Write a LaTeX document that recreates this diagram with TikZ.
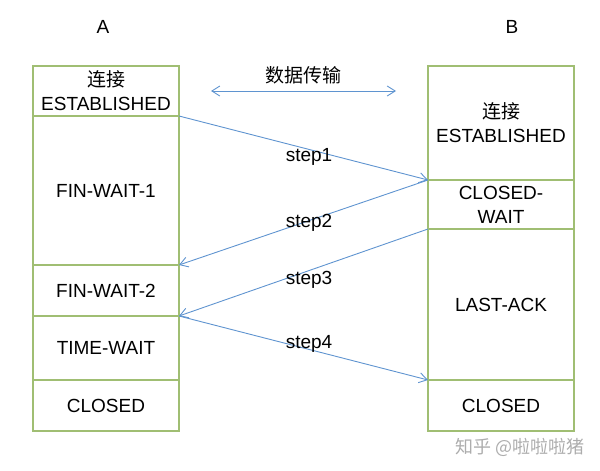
\documentclass[tikz,border=0pt]{standalone}
\usepackage{fontspec}
\setmainfont{Liberation Sans}
\newfontfamily\cjk{Noto Sans CJK SC}
\usepackage{xcolor}
\usetikzlibrary{positioning,arrows.meta}
\definecolor{boxgreen}{RGB}{160,190,115}
\definecolor{linkblue}{RGB}{95,148,208}

\begin{document}
\begin{tikzpicture}[
  x=0.5pt, y=-0.5pt,
  node distance=0pt,
  font=\fontsize{9.5}{12}\selectfont,
  statebox/.style={rectangle, draw=boxgreen, line width=0.7pt, fill=white,
                   minimum width=73pt, inner sep=0pt, outer sep=0pt, align=center},
  every edge/.style={  % the messages between A and B
            draw=linkblue,
            line width=0.45pt,
            -{Straight Barb[length=4pt,width=5pt]}}
]
  \useasboundingbox (0,0) rectangle (600,471);

  % column A
  \node (ta) at (103,27) {A};
  \node[statebox, minimum height=25pt, anchor=north west] (a1) at (33,66) {{\cjk 连接}\\ESTABLISHED};
  \node[statebox, minimum height=74.5pt] (a2) [below=of a1] {FIN-WAIT-1};
  \node[statebox, minimum height=25.5pt] (a3) [below=of a2] {FIN-WAIT-2};
  \node[statebox, minimum height=32pt] (a4) [below=of a3] {TIME-WAIT};
  \node[statebox, minimum height=25.5pt] (a5) [below=of a4] {CLOSED};

  % column B
  \node (tb) at (512,27) {B};
  \node[statebox, minimum height=57pt, anchor=north west] (b1) at (428,66) {{\cjk 连接}\\ESTABLISHED};
  \node[statebox, minimum height=24.5pt] (b2) [below=of b1] {CLOSED-\\WAIT};
  \node[statebox, minimum height=75.5pt] (b3) [below=of b2] {LAST-ACK};
  \node[statebox, minimum height=25.5pt] (b4) [below=of b3] {CLOSED};

  % data transfer
  \node (data) at (303,75) {\cjk 数据传输};
  \coordinate (dl) at (211,91);
  \coordinate (dr) at (396,91);
  \draw (dl) edge [{Straight Barb[length=4pt,width=5pt]}-{Straight Barb[length=4pt,width=5pt]}] (dr);

  % the four steps
  \draw (a1.south east) edge (b2.north west);
  \draw (b2.north west) edge (a3.north east);
  \draw (b3.north west) edge (a4.north east);
  \draw (a4.north east) edge (b4.north west);
  \node (s1) at (309,157) {step1};
  \node (s2) at (309,223) {step2};
  \node (s3) at (309,280) {step3};
  \node (s4) at (309,344) {step4};

  \node[text=black!32, font=\fontsize{9}{10}\selectfont] (mark) at (520,447) {\cjk 知乎 @啦啦啦猪};
\end{tikzpicture}
\end{document}
